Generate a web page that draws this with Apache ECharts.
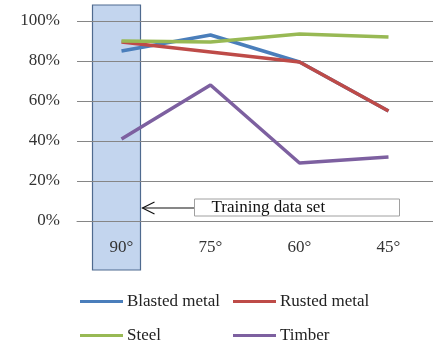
<!DOCTYPE html>
<html>
<head>
<meta charset="utf-8">
<script src="https://cdn.jsdelivr.net/npm/echarts@6/dist/echarts.min.js"></script>
<style>html,body{margin:0;padding:0;background:#fff}#c{width:433px;height:347px}</style>
</head>
<body>
<div id="c"></div>
<script>
const categories = ['90°', '75°', '60°', '45°'];
const blastedMetal = [85, 93, 79.5, 55];
const rustedMetal = [89.5, 84.5, 79.5, 55];
const steel = [90, 89.5, 93.5, 92];
const timber = [41, 68, 29, 32];
const yTicks = [0, 20, 40, 60, 80, 100];
const annotationText = 'Training data set';

const FONT = '"Liberation Serif", "Times New Roman", serif';
const colors = ['#4a7ebb', '#be4b48', '#98b954', '#7d60a0'];
const names = ['Blasted metal', 'Rusted metal', 'Steel', 'Timber'];
const dataSets = [blastedMetal, rustedMetal, steel, timber];

const chart = echarts.init(document.getElementById('c'), null, {renderer: 'canvas'});

const legendPos = [[80, 293], [233, 293], [80, 327], [233, 327]];

const option = {
  animation: false,
  grid: {left: 77, top: 21, width: 362, height: 200, containLabel: false},
  xAxis: {
    type: 'category',
    data: categories,
    boundaryGap: true,
    axisLine: {show: true, lineStyle: {color: '#868686', width: 1}},
    axisTick: {show: false},
    axisLabel: {margin: 18, fontFamily: FONT, fontSize: 17, color: '#333'},
    splitLine: {show: false}
  },
  yAxis: {
    type: 'value',
    min: yTicks[0], max: yTicks[yTicks.length - 1], interval: yTicks[1] - yTicks[0],
    axisLine: {show: false},
    axisTick: {show: false},
    axisLabel: {margin: 17, fontFamily: FONT, fontSize: 17, color: '#333', formatter: '{value}%'},
    splitLine: {show: true, lineStyle: {color: '#868686', width: 1}}
  },
  legend: names.map((n, i) => ({
    data: [n],
    left: legendPos[i][0], top: legendPos[i][1],
    icon: 'rect', itemWidth: 43, itemHeight: 3, itemGap: 0,
    textStyle: {fontFamily: FONT, fontSize: 17, color: '#222', padding: [0, 0, 0, -1]},
    padding: 0
  })),
  series: names.map((n, i) => ({
    name: n,
    type: 'line',
    data: dataSets[i],
    symbol: 'none',
    color: colors[i],
    lineStyle: {width: 3.5, color: colors[i]},
    z: 3
  }))
};
chart.setOption(option);

// annotation graphics positioned relative to the axes
const p90 = chart.convertToPixel({xAxisIndex: 0}, categories[0]);
const y0 = chart.convertToPixel({yAxisIndex: 0}, 0);
const yTop = chart.convertToPixel({yAxisIndex: 0}, 100);
const rectL = p90 - 29, rectR = p90 + 19;
const arrowY = y0 - 13;
chart.setOption({
  graphic: [
    {type: 'rect', z: -10, shape: {x: rectL, y: yTop - 16, width: rectR - rectL, height: 265},
     style: {fill: '#c3d5ee', stroke: '#4f6a8f', lineWidth: 1.2}},
    {type: 'line', z: 4, shape: {x1: rectR + 2, y1: arrowY, x2: rectR + 54, y2: arrowY},
     style: {stroke: '#111', lineWidth: 1.2}},
    {type: 'polyline', z: 4, shape: {points: [[rectR + 14, arrowY - 6], [rectR + 2, arrowY], [rectR + 14, arrowY + 6]]},
     style: {stroke: '#111', lineWidth: 1.2, fill: null}},
    {type: 'rect', z: 4, shape: {x: rectR + 54, y: arrowY - 9, width: 205, height: 17},
     style: {fill: '#fff', stroke: '#a0a0a0', lineWidth: 1}},
    {type: 'text', z: 5, x: rectR + 71, y: arrowY, style: {text: annotationText, font: '17px ' + FONT, fill: '#111', verticalAlign: 'middle'}}
  ]
});
</script>
</body>
</html>
